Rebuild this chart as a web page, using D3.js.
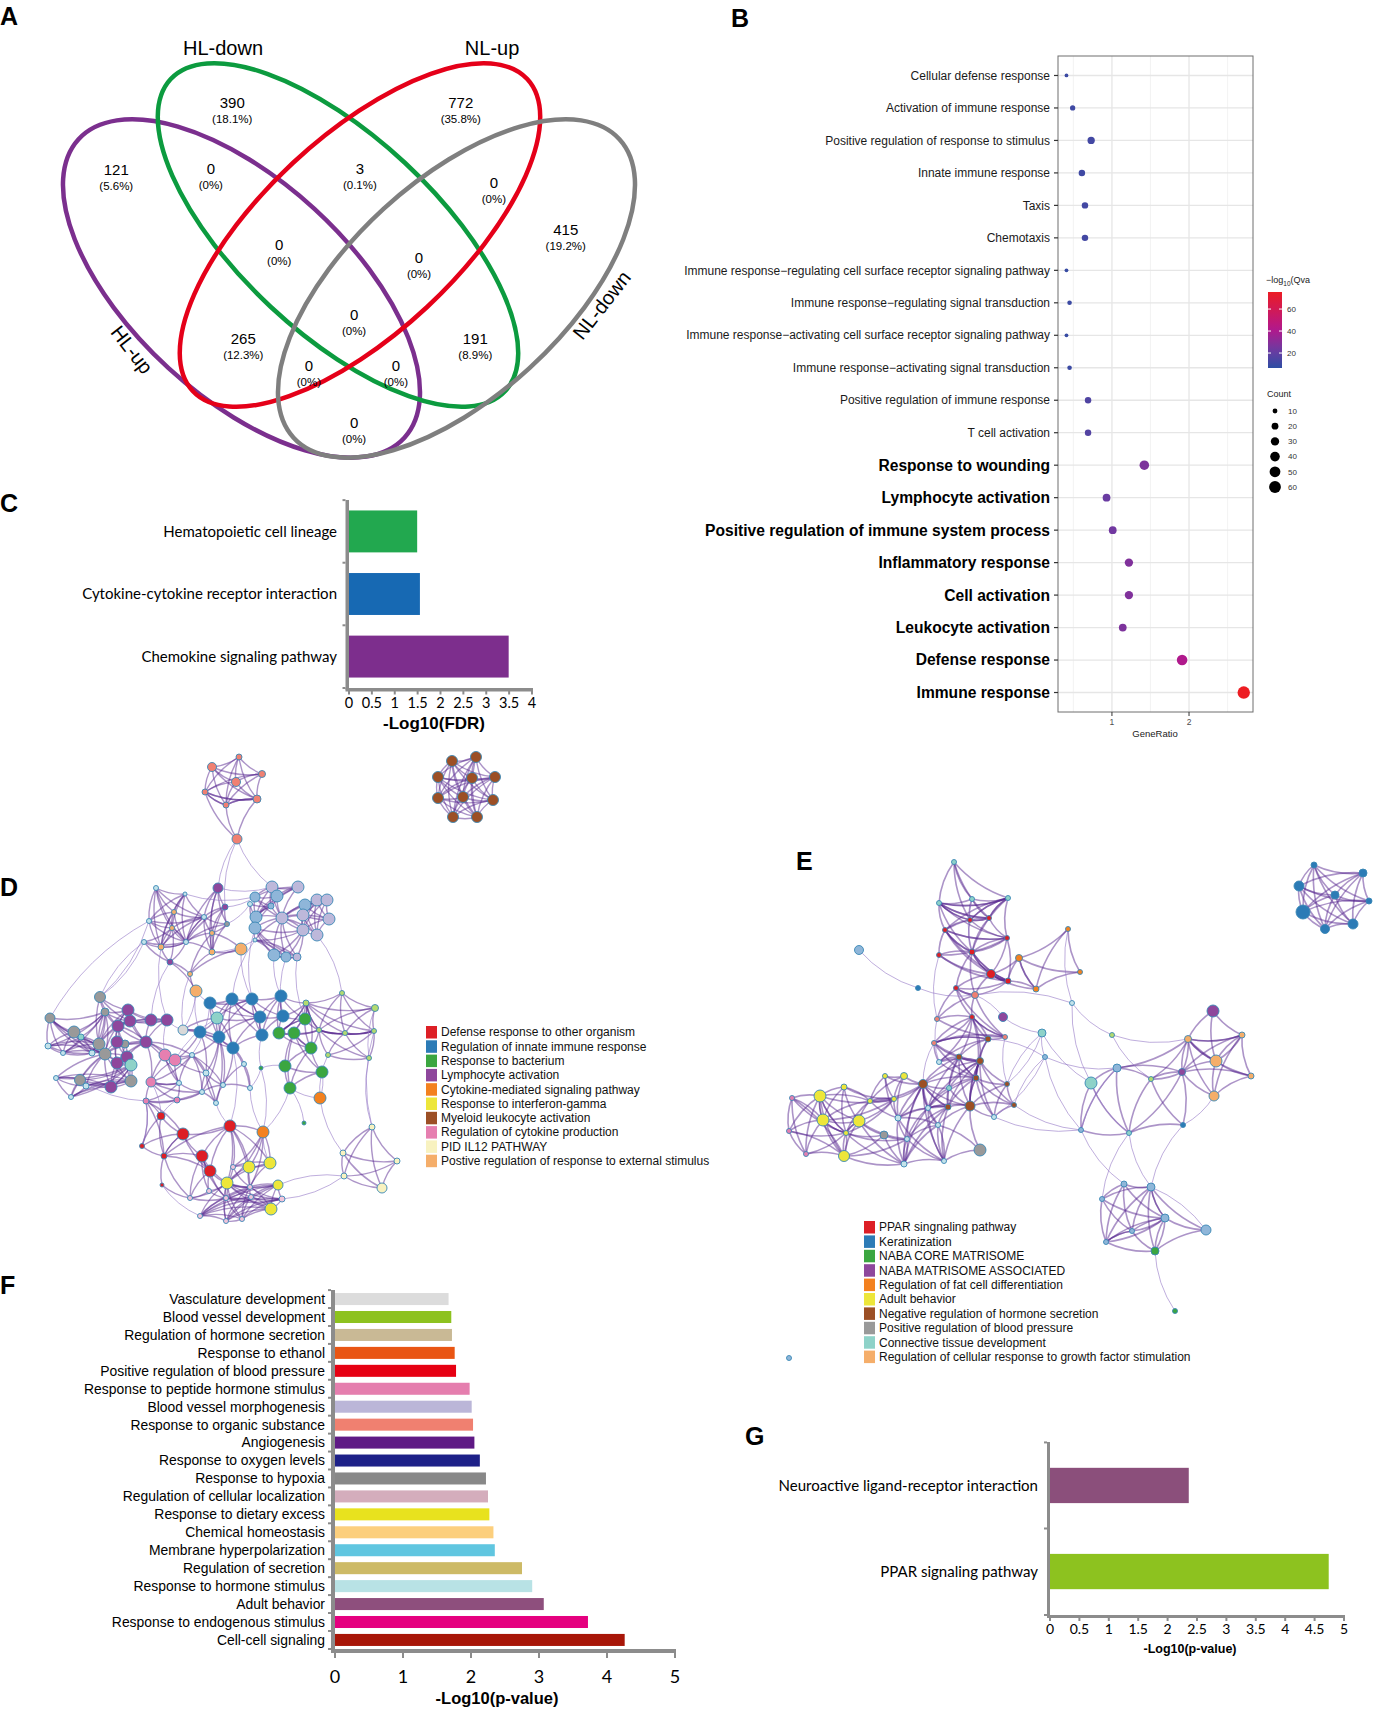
<!DOCTYPE html>
<html>
<head>
<meta charset="utf-8">
<script src="https://cdn.jsdelivr.net/npm/d3@7"></script>
<style>
  body { margin: 0; background: #fff; }
  svg { display: block; }
  text { font-family: "Liberation Sans", Arial, sans-serif; }
  .cal { font-family: Lato, "Open Sans", sans-serif; }
</style>
</head>
<body>
<svg id="fig" width="1374" height="1710"></svg>
<script>
// ---------------- data ----------------
// A: Venn diagram
const vennSets = ['HL-up', 'HL-down', 'NL-up', 'NL-down'];
const vennColors = ['#7B2F8E', '#0C9B3F', '#E50019', '#7F7F7F'];
const vennRegions = ['HL-down', 'NL-up', 'HL-up', 'HL-up&HL-down', 'HL-down&NL-up', 'NL-up&NL-down',
  'NL-down', 'HL-up&HL-down&NL-up', 'HL-down&NL-up&NL-down', 'all', 'HL-up&NL-up', 'HL-down&NL-down',
  'HL-up&NL-up&NL-down', 'HL-up&HL-down&NL-down', 'HL-up&NL-down'];
const vennCounts = [390, 772, 121, 0, 3, 0, 415, 0, 0, 0, 265, 191, 0, 0, 0];

// B: GO dot plot
const goTerms = ['Cellular defense response', 'Activation of immune response',
  'Positive regulation of response to stimulus', 'Innate immune response', 'Taxis', 'Chemotaxis',
  'Immune response\u2212regulating cell surface receptor signaling pathway',
  'Immune response\u2212regulating signal transduction',
  'Immune response\u2212activating cell surface receptor signaling pathway',
  'Immune response\u2212activating signal transduction', 'Positive regulation of immune response',
  'T cell activation', 'Response to wounding', 'Lymphocyte activation',
  'Positive regulation of immune system process', 'Inflammatory response', 'Cell activation',
  'Leukocyte activation', 'Defense response', 'Immune response'];
const goRatio = [0.41, 0.49, 0.73, 0.61, 0.65, 0.65, 0.41, 0.45, 0.41, 0.45, 0.69, 0.69,
  1.42, 0.93, 1.01, 1.22, 1.22, 1.14, 1.91, 2.71];
const goCount = [6, 12, 23, 18, 18, 18, 6, 9, 6, 9, 18, 18, 39, 26, 26, 30, 30, 26, 48, 66];
const goQ = [10, 11, 12, 11, 12, 12, 9, 10, 9, 10, 15, 16, 27, 22, 24, 28, 28, 27, 41, 76];
const goBold = 12; // first index drawn in bold
const countTicks = [10, 20, 30, 40, 50, 60];
const qTicks = [20, 40, 60];

// C: KEGG (up)
const keggC = ['Hematopoietic cell lineage', 'Cytokine-cytokine receptor interaction', 'Chemokine signaling pathway'];
const keggCVal = [1.49, 1.55, 3.49];
const keggCColor = ['#22A84F', '#1769B3', '#7D2E8D'];
const keggCTicks = ['0', '0.5', '1', '1.5', '2', '2.5', '3', '3.5', '4'];

// F: GO (down)
const fTerms = ['Vasculature development', 'Blood vessel development', 'Regulation of hormone secretion',
  'Response to ethanol', 'Positive regulation of blood pressure', 'Response to peptide hormone stimulus',
  'Blood vessel morphogenesis', 'Response to organic substance', 'Angiogenesis', 'Response to oxygen levels',
  'Response to hypoxia', 'Regulation of cellular localization', 'Response to dietary excess',
  'Chemical homeostasis', 'Membrane hyperpolarization', 'Regulation of secretion',
  'Response to hormone stimulus', 'Adult behavior', 'Response to endogenous stimulus', 'Cell-cell signaling'];
const fVal = [1.67, 1.71, 1.72, 1.76, 1.78, 1.98, 2.01, 2.03, 2.05, 2.13, 2.22, 2.25, 2.27, 2.33, 2.35,
  2.75, 2.90, 3.07, 3.72, 4.26];
const fColor = ['#DCDCDC', '#8DC21F', '#C9B995', '#E95513', '#E60012', '#E57EAE', '#BBB6D8', '#F08070',
  '#5F1985', '#1D2088', '#888888', '#D4ADBC', '#E8E21E', '#FCCF7D', '#60C6E0', '#CDBA66', '#B8E2E5',
  '#8E4F7D', '#E5007F', '#A81608'];

// G: KEGG (down)
const gTerms = ['Neuroactive ligand-receptor interaction', 'PPAR signaling pathway'];
const gVal = [2.36, 4.74];
const gColor = ['#8B4F7B', '#8DC21F'];
const gTicks = ['0', '0.5', '1', '1.5', '2', '2.5', '3', '3.5', '4', '4.5', '5'];

// D / E legends
const dLegend = ['Defense response to other organism', 'Regulation of innate immune response',
  'Response to bacterium', 'Lymphocyte activation', 'Cytokine-mediated signaling pathway',
  'Response to interferon-gamma', 'Myeloid leukocyte activation', 'Regulation of cytokine production',
  'PID IL12 PATHWAY', 'Postive regulation of response to external stimulus'];
const dLegendColor = ['#DD1F26', '#2C7BB6', '#3BA640', '#8E479C', '#F3811F', '#EDE63A', '#9C4F25',
  '#E67FB0', '#F8F2C0', '#F5AE6A'];
const eLegend = ['PPAR singnaling pathway', 'Keratinization', 'NABA CORE MATRISOME',
  'NABA MATRISOME ASSOCIATED', 'Regulation of fat cell differentiation', 'Adult behavior',
  'Negative regulation of hormone secretion', 'Positive regulation of blood pressure',
  'Connective tissue development', 'Regulation of cellular response to growth factor stimulation'];
const eLegendColor = ['#DD1F26', '#2C7BB6', '#3BA640', '#8E479C', '#F3811F', '#EDE63A', '#9C4F25',
  '#999999', '#8ED2C8', '#F5AE6A'];

// network cluster colours
const clusterColor = {r: '#DD1F26', b: '#2C7BB6', g: '#3BA640', p: '#8E479C', o: '#F3811F', y: '#EDE63A',
  w: '#9C4F25', k: '#E67FB0', l: '#F8F2C0', a: '#F5AE6A', G: '#999999', B: '#8FB6D9', L: '#BDB8DA',
  s: '#F08072', t: '#8ED2C8', q: '#B3DB6E', x: '#D9D9D9', c: '#C4E3EA', P: '#F2C4DA'};

// D network: nodes "id cluster size"
const dNodes = ('s1 s 4.5,s2 s 3,s3 s 3.5,s4 s 4.5,s5 s 3,s6 s 4,s7 s 3,s8 s 5,' +
  'w1 w 5.5,w2 w 5.5,w3 w 5.5,w4 w 5.5,w5 w 5.5,w6 w 5.5,w7 w 5.5,w8 w 5.5,w9 w 5.5,w10 w 5.5,' +
  'u1 c 2.5,u2 c 2,u3 p 5,u4 p 3,u5 a 2.5,u6 c 2.5,u7 c 2.5,u8 a 2.5,u9 a 2.5,u10 G 2.5,u11 c 2.5,' +
  'u12 a 3,u13 c 2.5,u14 a 3,u15 a 6,u16 p 3,u17 a 2.5,u18 a 6,' +
  'v1 L 6,v2 L 6,v3 B 5,v4 B 6,v5 c 2.5,v6 B 3,v7 B 6,v8 L 6,v9 L 6,v10 L 6,v11 L 6,v12 L 6,v13 B 6,' +
  'v14 B 6,v15 L 6,v16 L 6,v17 B 6,v18 B 5,v19 L 4,v20 c 2,' +
  'm1 b 6,m2 b 6,m3 b 6,m4 b 6,m5 t 6,m6 b 6,m7 b 6,m8 b 6,m9 b 6,m10 b 6,m11 b 6,m12 x 5,' +
  'n1 g 6,n2 g 6,n3 g 6,n4 g 6,n5 g 6,n6 g 6,n7 g 6,q1 q 3,q2 q 2.5,q3 q 3.5,q4 q 2.5,q5 q 2.5,' +
  'q6 q 2.5,q7 q 2.5,q8 q 2.5,n8 g 2,n9 g 2,' +
  'h1 G 5.5,h2 G 5,h3 G 6,h4 G 6,h5 G 6,h6 G 5.5,h7 G 6,h8 G 4,h9 G 4,p1 p 6,p2 p 6,p3 p 6,p4 p 6,' +
  'p5 p 6,p6 p 6,p7 p 6,p8 p 6,p9 p 6,p10 p 6,t1 t 3,t2 t 6,c1 c 3,c2 c 2.5,c3 c 2.5,c4 c 2.5,c5 c 3,c6 c 3,' +
  'k1 k 6,k2 k 6,k3 k 5,k4 k 3,k5 k 3,c7 c 2.5,c8 c 2.5,c9 c 3,c10 c 2.5,c11 c 2.5,c12 c 2.5,c13 c 2.5,c14 c 2.5,' +
  'r1 r 4,r2 r 6,r3 r 6,r4 r 6,r5 r 6,r6 r 2.5,r7 r 3,r8 r 2,o1 o 6,o2 o 6,' +
  'y1 y 6,y2 y 6,y3 y 6,y4 y 5,y5 y 6,P1 P 2.5,P2 P 2.5,P3 P 2.5,P4 P 2.5,P5 P 2.5,P6 P 2.5,P7 P 3,' +
  'P8 P 2.5,P9 P 2.5,P10 P 2.5,l1 l 3,l2 l 3,l3 l 3,l4 l 3,l5 l 5').split(',');

const dCliques = [
  ['s1','s2','s3','s4','s5','s6','s7'], ['s5','s6','s7','s8'],
  ['w1','w2','w3','w4','w5','w6','w7','w8','w9','w10'],
  ['u1','u2','u5','u6','u7','u8','u12','u13'], ['u3','u4','u7','u9','u10','u14','u13'],
  ['u11','u12','u16','u13','u8'], ['u14','u15','u9','u17'], ['u17','u18','u16'],
  ['v1','v2','v3','v4','v6','v10','v13'], ['v7','v8','v9','v11','v12','v15','v16','v10'],
  ['v10','v14','v17','v18','v19','v20','v15'], ['v5','v6','v13','v14'],
  ['m1','m2','m3','m5','m6','m9'], ['m3','m4','m6','m7','m10'], ['m8','m9','m11','m5','m12'],
  ['m2','m6','m10','m11'],
  ['n1','n2','n3','n4','q1','q4'], ['n3','n4','n5','n6','n7'], ['q1','q2','q3','q4','q5','q6'],
  ['q4','q5','q7','q8','q6'], ['m4','m7','n1','n2','q1'],
  ['h2','h3','h4','h5','c1','c2','c6','t1','h8'], ['h1','h8','p1','p2','p5','h4'],
  ['p1','p2','p3','p4','p7','p5'], ['p5','p6','p7','p8','p9','h9','h5'],
  ['h5','h6','h7','p10','c3','c4','c5','t2'], ['p8','p9','p10','t2','h7'],
  ['k1','k2','k3','c14','c7','p7'], ['k3','k4','k5','c7','c8'], ['c9','c10','c11','c8','c14','m9'],
  ['c12','c13','c10','m11'], ['k2','c9','m8'],
  ['r1','r2','r6','r7','k4'], ['r2','r3','r4','r5','r7'], ['r4','r5','P2','P3','P4','y3'],
  ['y1','y2','y3','P1','P5','o2','r3'], ['y3','y4','y5','P4','P5','P6','P7','P9','P10','P8'],
  ['r7','r8','P2'], ['l1','l2','l3','l4','l5']
];
const dBridges = [['s8','u3'],['s8','v1'],['s8','u4'],['u10','v5'],['u4','v3'],['u14','v20'],['u3','v1'],
  ['h1','u11'],['h1','u6'],['p4','m12'],['p4','k1'],['u18','m1'],['u18','m8'],['v17','m4'],['v18','m7'],
  ['v19','n1'],['n7','o1'],['n5','n8'],['q8','l1'],['q6','l1'],['r1','k3'],['r3','m11'],['o2','n8'],
  ['o1','n6'],['o2','n7'],['r8','P8'],['P7','l3'],['o1','l2'],['q3','q8'],['u15','m3'],['c12','n8'],
  ['m12','u18'],['n9','n7'],['u2','v3'],['u6','h2'],['u11','h1'],['u16','p3'],['u17','m12'],['v20','m2'],
  ['v14','m3'],['m5','k2'],['c14','m1'],['k5','r1'],['c11','r3'],['c12','o2'],['m10','n8'],['q7','o1'],
  ['q2','v16'],['u12','p4'],['h6','k4'],['r6','k4'],['o2','y2'],['l3','y4']];

// E network
const eNodes = ('a1 t 2.5,a2 t 2.5,a3 t 2.5,a4 t 2.5,a5 r 2.5,a6 r 2.5,a7 r 2.5,a8 r 2.5,a9 r 3,a10 r 2.5,' +
  'a11 r 4.5,a12 r 3,a13 r 2.5,a14 s 3.5,a15 r 2.5,a16 s 2.5,a17 p 4.5,a18 s 2.5,a19 w 3,a20 s 2.5,' +
  'o1 o 3.5,o2 o 2.5,o3 o 2.5,o4 o 3,a21 c 2.5,a22 t 4,a23 B 2.5,a24 B 4.5,a25 b 2.5,' +
  'b1 w 3,b2 w 3.5,b3 c 2.5,b4 w 3,b5 w 4.5,b6 t 2.5,b7 w 2.5,b8 w 5,b9 w 3,b10 c 2.5,b11 w 2.5,' +
  'b12 c 2.5,b13 c 2.5,b14 c 3,b15 c 2.5,b16 c 2.5,b17 c 3,b18 G 6,b19 G 4,' +
  'e1 y 2.5,e2 y 3.5,e3 y 2.5,e4 y 2.5,e5 y 3,e6 y 6,e7 y 6,e8 y 6,e9 y 2.5,e10 y 5.5,e11 k 2.5,' +
  'e12 k 2.5,e13 k 2.5,' +
  'f1 p 6,f2 a 3.5,f3 a 3,f4 a 6,f5 a 3,f6 p 3.5,f7 a 5,f8 q 2.5,f9 q 2.5,f10 B 4,f11 t 6,f12 b 2.5,' +
  'f13 B 2.5,f14 t 2.5,' +
  'g1 B 3,g2 B 4,g3 B 2.5,g4 B 4,g5 B 2.5,g6 B 5,g7 B 2.5,g8 g 4,g9 g 2.5,' +
  'K1 b 3,K2 b 4,K3 b 5,K4 b 4,K5 b 3,K6 b 7,K7 b 5,K8 b 4.5,Z B 2.5').split(',');

const eCliques = [
  ['a1','a2','a3','a4','a5','a6'], ['a2','a4','a5','a6','a7','a8','a9'], ['a7','a9','a10','a11','a12','a8'],
  ['a9','a11','a13','a14','a12'], ['a13','a14','a15','a16','a18'], ['a15','a19','a18','a20'],
  ['a11','o1','o4','a12'], ['o1','o2','o3','o4'],
  ['a19','a20','b1','b2','b3','b4','a15'], ['b1','b2','b4','b5','b6','b8','b9','b10'],
  ['b2','b4','b7','b11','b8','b12'], ['b5','b9','b10','b13','b14','b15','b16','b17'],
  ['e1','e2','e3','e4','b14','b5'], ['e4','e5','e6','e7','e8','e9','e3'],
  ['e6','e7','e10','e11','e12','e13','e9'], ['e8','e9','e10','b19','b17','b15'], ['b8','b18','b16','b13'],
  ['f1','f2','f4','f3'], ['f2','f3','f4','f5','f6','f7'], ['f6','f9','f10','f2'], ['f10','f11','f13','f14'],
  ['f9','f12','f14','f6'],
  ['g1','g2','g3','g4','g5','g7'], ['g2','g4','g6','g8'], ['g5','g7','g8','g4'],
  ['K1','K2','K3','K4','K5','K6','K7','K8']
];
const eBridges = [['a24','a25'],['a25','a14'],['a17','a22'],['a21','a14'],['a22','a23'],['a23','a19'],
  ['a22','b7'],['a23','b11'],['a22','f11'],['a23','f13'],['a21','f8'],['f8','f2'],['a23','f10'],
  ['b11','f13'],['f13','g1'],['f14','g2'],['g8','g9'],['f14','g3'],['g6','g2'],['a17','a14'],['o2','a21'],
  ['a3','a9'],['f12','f7'],['b12','f13'],['a16','b3'],['a20','b5'],['a10','a16'],['a18','b7'],['b7','a22'],
  ['b12','a23'],['f11','f14'],['f8','f9'],['f10','f13'],['f12','g2'],['a21','f11']];

// ---------------- layout (not data) ----------------
// Venn: ellipses [cx, cy, rx, ry, angle] and label spots in a unit frame
const vennEllipses = [[0.3129, 0.4284, 0.381, 0.1862, 42.5], [0.4793, 0.3362, 0.3943, 0.1697, 43],
  [0.5172, 0.3362, 0.3943, 0.1697, -43], [0.6836, 0.4284, 0.381, 0.1862, -42.5]];
const vennSetSpot = [[0.124, 0.534, 52], [0.281, 0.0138, 0], [0.745, 0.0138, 0], [0.934, 0.457, -52]];
const vennSpot = [[0.297, 0.1086], [0.691, 0.1086], [0.097, 0.2241], [0.260, 0.2224], [0.517, 0.2224],
  [0.748, 0.2466], [0.872, 0.3276], [0.378, 0.3534], [0.619, 0.3759], [0.507, 0.4741], [0.316, 0.5155],
  [0.716, 0.5155], [0.429, 0.5621], [0.579, 0.5621], [0.507, 0.6603]];

// network layouts (panel-local)
const dLayout = {s1:[212,27],s2:[239,17],s3:[262,34],s4:[236,42],s5:[205,52],s6:[257,59],s7:[226,65],s8:[237,99],
  w1:[452,21],w2:[476,17],w3:[438,37],w4:[472,38],w5:[495,37],w6:[438,58],w7:[463,57],w8:[493,60],w9:[453,77],w10:[477,77],
  u1:[156,148],u2:[185,154],u3:[218,148],u4:[225,167],u5:[174,172],u6:[149,181],u7:[204,177],u8:[172,188],u9:[212,193],
  u10:[227,184],u11:[144,202],u12:[161,207],u13:[186,202],u14:[212,212],u15:[241,209],u16:[170,222],u17:[190,234],u18:[196,251],
  v1:[272,147],v2:[298,147],v3:[255,157],v4:[277,156],v5:[250,164],v6:[271,166],v7:[305,165],v8:[317,160],v9:[327,160],
  v10:[282,178],v11:[303,175],v12:[329,179],v13:[256,177],v14:[255,188],v15:[303,190],v16:[317,195],v17:[274,215],
  v18:[286,217],v19:[297,217],v20:[255,200],
  m1:[210,263],m2:[232,259],m3:[252,259],m4:[281,256],m5:[217,278],m6:[260,277],m7:[283,276],m8:[200,292],m9:[219,297],
  m10:[262,295],m11:[233,308],m12:[183,290],
  n1:[305,279],n2:[279,293],n3:[294,293],n4:[311,308],n5:[285,326],n6:[322,332],n7:[290,348],q1:[306,263],q2:[342,253],
  q3:[375,268],q4:[319,290],q5:[345,293],q6:[374,291],q7:[328,315],q8:[369,318],n8:[261,328],n9:[304,383],
  h1:[100,257],h2:[50,278],h3:[74,292],h4:[99,304],h5:[105,314],h6:[80,340],h7:[131,341],h8:[105,272],h9:[125,304],
  p1:[128,270],p2:[130,281],p3:[151,280],p4:[167,280],p5:[118,286],p6:[117,302],p7:[146,302],p8:[127,317],p9:[117,323],
  p10:[111,347],t1:[81,297],t2:[131,325],c1:[48,306],c2:[63,313],c3:[56,338],c4:[71,357],c5:[86,346],c6:[92,313],
  k1:[165,315],k2:[175,320],k3:[151,342],k4:[146,361],k5:[177,360],c7:[179,343],c8:[202,352],c9:[206,333],c10:[223,345],
  c11:[216,363],c12:[250,348],c13:[244,324],c14:[192,315],
  r1:[161,376],r2:[183,394],r3:[230,386],r4:[202,416],r5:[210,431],r6:[142,406],r7:[164,416],r8:[162,445],
  o1:[320,358],o2:[263,392],
  y1:[249,427],y2:[270,423],y3:[227,443],y4:[278,445],y5:[271,469],P1:[233,427],P2:[190,458],P3:[209,451],P4:[226,458],
  P5:[250,447],P6:[251,457],P7:[282,459],P8:[200,476],P9:[226,481],P10:[242,479],
  l1:[372,387],l2:[343,413],l3:[344,436],l4:[397,421],l5:[382,448]};

const eLayout = {a1:[194,22],a2:[179,63],a3:[212,59],a4:[248,58],a5:[210,80],a6:[229,78],a7:[185,90],a8:[247,98],
  a9:[212,112],a10:[179,115],a11:[231,134],a12:[248,141],a13:[196,148],a14:[215,155],a15:[212,177],a16:[177,179],
  a17:[243,177],a18:[245,197],a19:[228,199],a20:[174,203],o1:[259,118],o2:[308,89],o3:[320,132],o4:[276,149],
  a21:[312,163],a22:[282,193],a23:[285,217],a24:[99,110],a25:[158,148],
  b1:[199,217],b2:[220,221],b3:[179,222],b4:[216,238],b5:[163,244],b6:[189,248],b7:[247,244],b8:[210,266],b9:[188,267],
  b10:[168,268],b11:[254,265],b12:[234,277],b13:[178,285],b14:[138,278],b15:[147,299],b16:[184,321],b17:[144,324],
  b18:[220,310],b19:[124,295],
  e1:[125,236],e2:[144,236],e3:[134,259],e4:[110,261],e5:[84,247],e6:[60,256],e7:[63,280],e8:[99,281],e9:[86,293],
  e10:[84,316],e11:[32,258],e12:[29,291],e13:[46,314],
  f1:[453,171],f2:[428,199],f3:[482,195],f4:[456,221],f5:[491,236],f6:[422,232],f7:[454,256],f8:[352,195],f9:[391,239],
  f10:[357,228],f11:[331,243],f12:[423,285],f13:[321,290],f14:[369,293],
  g1:[364,344],g2:[391,347],g3:[342,359],g4:[405,378],g5:[372,391],g6:[446,390],g7:[346,402],g8:[395,411],g9:[415,471],
  K1:[554,25],K2:[603,33],K3:[539,46],K4:[575,55],K5:[609,61],K6:[543,72],K7:[593,84],K8:[565,89],Z:[29,518]};

// ---------------- drawing ----------------
const svg = d3.select('#fig');

function panelLetter(txt, x, y) {
  svg.append('text').attr('x', x).attr('y', y).attr('font-size', 25).attr('font-weight', 'bold').text(txt);
}

// ---- A: Venn
(function() {
  const u = d3.scaleLinear().domain([0, 1]).range([0, 580]);
  const g = svg.append('g').attr('transform', 'translate(60,40)');
  vennEllipses.forEach((e, i) => {
    g.append('ellipse')
        .attr('cx', u(e[0])).attr('cy', u(e[1]))
        .attr('rx', u(e[2])).attr('ry', u(e[3]))
        .attr('transform', `rotate(${e[4]},${u(e[0])},${u(e[1])})`)
        .attr('fill', 'none')
        .attr('stroke', vennColors[i])
        .attr('stroke-width', 4.5);
  });
  const total = d3.sum(vennCounts);
  const pct = v => v === 0 ? '(0%)' : `(${(v / total * 100).toFixed(1)}%)`;
  const lab = g.selectAll('g.region').data(vennRegions).join('g').attr('class', 'region')
      .attr('transform', (d, i) => `translate(${u(vennSpot[i][0])},${u(vennSpot[i][1])})`);
  lab.append('text').attr('text-anchor', 'middle').attr('y', 5).attr('font-size', 15)
      .text((d, i) => vennCounts[i]);
  lab.append('text').attr('text-anchor', 'middle').attr('y', 20).attr('font-size', 11.5)
      .text((d, i) => pct(vennCounts[i]));
  g.selectAll('text.set').data(vennSets).join('text').attr('class', 'set')
      .attr('transform', (d, i) => `translate(${u(vennSetSpot[i][0])},${u(vennSetSpot[i][1])}) rotate(${vennSetSpot[i][2]})`)
      .attr('text-anchor', 'middle').attr('dy', '0.35em').attr('font-size', 20)
      .text(d => d);
})();
panelLetter('A', 0, 25);

// ---- B: dot plot
(function() {
  const x = d3.scaleLinear().domain([0.3, 2.83]).range([1058, 1253]);
  const y = d3.scalePoint().domain(goTerms).range([56, 712]).padding(0.6);
  const size = d3.scaleSqrt().domain([0, 64]).range([0, 6.1]);
  const color = d3.scaleLinear().domain([6.4, 22, 42, 75.5])
      .range(['#2D4EA3', '#6A3CA2', '#B4178B', '#EC1C24']);
  const g = svg.append('g');
  g.selectAll('line.vmin').data([0.5, 1.5, 2.5]).join('line')
      .attr('x1', d => x(d)).attr('x2', d => x(d)).attr('y1', 56).attr('y2', 712)
      .attr('stroke', '#F0F0F0').attr('stroke-width', 0.8);
  g.selectAll('line.vmaj').data([1, 2]).join('line')
      .attr('x1', d => x(d)).attr('x2', d => x(d)).attr('y1', 56).attr('y2', 712)
      .attr('stroke', '#E6E6E6').attr('stroke-width', 1.3);
  g.selectAll('line.h').data(goTerms).join('line')
      .attr('x1', 1058).attr('x2', 1253).attr('y1', d => y(d)).attr('y2', d => y(d))
      .attr('stroke', '#E6E6E6').attr('stroke-width', 1.3);
  g.append('rect').attr('x', 1058).attr('y', 56).attr('width', 195).attr('height', 656)
      .attr('fill', 'none').attr('stroke', '#6E6E6E').attr('stroke-width', 1);
  g.selectAll('circle').data(goTerms).join('circle')
      .attr('cx', (d, i) => x(goRatio[i])).attr('cy', d => y(d))
      .attr('r', (d, i) => size(goCount[i])).attr('fill', (d, i) => color(goQ[i]));
  g.selectAll('line.yt').data(goTerms).join('line')
      .attr('x1', 1054).attr('x2', 1058).attr('y1', d => y(d)).attr('y2', d => y(d))
      .attr('stroke', '#333').attr('stroke-width', 1.2);
  g.selectAll('text.yl').data(goTerms).join('text')
      .attr('x', 1050).attr('y', d => y(d)).attr('dy', '0.35em').attr('text-anchor', 'end')
      .attr('font-size', (d, i) => i < goBold ? 12 : 15.6)
      .attr('font-weight', (d, i) => i < goBold ? 'normal' : 'bold')
      .attr('fill', (d, i) => i < goBold ? '#1A1A1A' : '#000')
      .text(d => d);
  g.selectAll('line.xt').data([1, 2]).join('line')
      .attr('x1', d => x(d)).attr('x2', d => x(d)).attr('y1', 712).attr('y2', 716)
      .attr('stroke', '#333');
  g.selectAll('text.xl').data([1, 2]).join('text')
      .attr('x', d => x(d)).attr('y', 725).attr('text-anchor', 'middle').attr('font-size', 8.5).attr('fill', '#4D4D4D')
      .text(d => d);
  g.append('text').attr('x', 1155).attr('y', 737).attr('text-anchor', 'middle')
      .attr('font-size', 9.5).attr('fill', '#222').text('GeneRatio');

  // colour legend
  const qs = d3.scaleLinear().domain([6.4, 75.5]).range([368, 292]);
  const grad = svg.append('defs').append('linearGradient').attr('id', 'qgrad')
      .attr('x1', 0).attr('x2', 0).attr('y1', 1).attr('y2', 0);
  d3.range(0, 1.01, 0.1).forEach(t => {
    grad.append('stop').attr('offset', t).attr('stop-color', color(6.4 + t * (75.5 - 6.4)));
  });
  const t = g.append('text').attr('x', 1266).attr('y', 283).attr('font-size', 9).attr('fill', '#222');
  t.append('tspan').text('\u2212log');
  t.append('tspan').attr('font-size', 6.5).attr('dy', 3).text('10');
  t.append('tspan').attr('dy', -3).text('(Qva');
  g.append('rect').attr('x', 1268).attr('y', 292).attr('width', 14).attr('height', 76).attr('fill', 'url(#qgrad)');
  qTicks.forEach(v => {
    g.append('line').attr('x1', 1268).attr('x2', 1271).attr('y1', qs(v)).attr('y2', qs(v)).attr('stroke', '#fff');
    g.append('line').attr('x1', 1279).attr('x2', 1282).attr('y1', qs(v)).attr('y2', qs(v)).attr('stroke', '#fff');
    g.append('text').attr('x', 1287).attr('y', qs(v)).attr('dy', '0.35em')
        .attr('font-size', 8).attr('fill', '#333').text(v);
  });
  // size legend
  g.append('text').attr('x', 1267).attr('y', 397).attr('font-size', 9).attr('fill', '#222').text('Count');
  const cy = d3.scalePoint().domain(countTicks).range([411, 487]);
  g.selectAll('circle.cl').data(countTicks).join('circle')
      .attr('cx', 1275).attr('cy', d => cy(d)).attr('r', d => size(d)).attr('fill', '#000');
  g.selectAll('text.cl').data(countTicks).join('text')
      .attr('x', 1288).attr('y', d => cy(d)).attr('dy', '0.35em').attr('font-size', 8).attr('fill', '#333').text(d => d);
})();
panelLetter('B', 731, 27);

// ---- horizontal bar chart helper (C, F, G)
function hbar(opt) {
  const g = svg.append('g');
  const x = d3.scaleLinear().domain(opt.domain).range(opt.xr);
  const y = d3.scaleBand().domain(opt.terms).range(opt.yr).paddingInner(opt.pi).paddingOuter(opt.po);
  g.selectAll('rect').data(opt.terms).join('rect')
      .attr('x', x(0)).attr('y', d => y(d))
      .attr('width', (d, i) => x(opt.values[i]) - x(0)).attr('height', y.bandwidth())
      .attr('fill', (d, i) => opt.colors[i]);
  const axc = '#8C8C8C';
  // y axis
  g.append('line').attr('x1', x(0) - opt.aw / 2).attr('x2', x(0) - opt.aw / 2)
      .attr('y1', opt.yr[0]).attr('y2', opt.yr[1] + opt.aw / 2)
      .attr('stroke', axc).attr('stroke-width', opt.aw);
  const bounds = opt.terms.map(d => y(d) - y.step() * y.paddingInner() / 2).concat([opt.yr[1]]);
  g.selectAll('line.yt').data(bounds).join('line')
      .attr('x1', x(0) - opt.aw - 3).attr('x2', x(0) - opt.aw).attr('y1', d => d).attr('y2', d => d)
      .attr('stroke', axc).attr('stroke-width', 2);
  // x axis
  g.append('line').attr('x1', x(0) - opt.aw).attr('x2', x(opt.domain[1]) + 1)
      .attr('y1', opt.yr[1] + opt.aw / 2).attr('y2', opt.yr[1] + opt.aw / 2)
      .attr('stroke', axc).attr('stroke-width', opt.aw);
  g.selectAll('line.xt').data(opt.ticks).join('line')
      .attr('x1', d => x(+d)).attr('x2', d => x(+d))
      .attr('y1', opt.yr[1]).attr('y2', opt.yr[1] + opt.aw + opt.tl)
      .attr('stroke', axc).attr('stroke-width', 2);
  g.selectAll('text.xl').data(opt.ticks).join('text').attr('class', 'cal')
      .attr('x', d => x(+d)).attr('y', opt.tickY).attr('text-anchor', 'middle')
      .attr('font-size', opt.tickSize).text(d => d);
  g.selectAll('text.yl').data(opt.terms).join('text').attr('class', opt.labelClass)
      .attr('x', opt.labelX).attr('y', d => y(d) + y.bandwidth() / 2).attr('dy', '0.35em')
      .attr('text-anchor', 'end').attr('font-size', opt.labelSize).text(d => d);
  g.append('text').attr('x', opt.titleX).attr('y', opt.titleY)
      .attr('text-anchor', 'middle').attr('font-weight', 'bold').attr('font-size', opt.titleSize)
      .text(opt.title);
}

hbar({terms: keggC, values: keggCVal, colors: keggCColor, domain: [0, 4], xr: [349, 532], yr: [500, 688],
  pi: 0.33, po: 0.167, aw: 3.5, tl: 3, ticks: keggCTicks, tickY: 708, tickSize: 14.5,
  labelX: 337, labelSize: 15, labelClass: 'cal', title: '-Log10(FDR)', titleX: 434, titleY: 729, titleSize: 17});
panelLetter('C', 0, 512);

hbar({terms: fTerms, values: fVal, colors: fColor, domain: [0, 5], xr: [335, 675], yr: [1290, 1649],
  pi: 0.33, po: 0.17, aw: 4, tl: 5, ticks: ['0', '1', '2', '3', '4', '5'], tickY: 1683, tickSize: 18,
  labelX: 325, labelSize: 13.9, labelClass: null, title: '-Log10(p-value)', titleX: 497, titleY: 1704, titleSize: 16.5});
panelLetter('F', 0, 1294);

hbar({terms: gTerms, values: gVal, colors: gColor, domain: [0, 5], xr: [1050, 1344], yr: [1442, 1615],
  pi: 0.59, po: 0.3, aw: 3, tl: 3, ticks: gTicks, tickY: 1634, tickSize: 14,
  labelX: 1038, labelSize: 15, labelClass: 'cal', title: '-Log10(p-value)', titleX: 1190, titleY: 1653, titleSize: 12.5});
panelLetter('G', 745, 1445);

// ---- network helper (D, E)
function network(nodes, layout, cliques, bridges, ox, oy, ew) {
  const x = d3.scaleLinear().domain([0, 1]).range([ox, ox + 1]);
  const y = d3.scaleLinear().domain([0, 1]).range([oy, oy + 1]);
  const g = svg.append('g');
  const edges = [];
  cliques.forEach(c => {
    for (let i = 0; i < c.length; i++) for (let j = i + 1; j < c.length; j++) edges.push([c[i], c[j], 1]);
  });
  bridges.forEach(b => edges.push([b[0], b[1], 0]));
  const path = e => {
    const a = layout[e[0]], b = layout[e[1]];
    const x1 = x(a[0]), y1 = y(a[1]), x2 = x(b[0]), y2 = y(b[1]);
    const mx = (x1 + x2) / 2, my = (y1 + y2) / 2;
    const k = 0.14;
    return `M${x1},${y1}Q${mx - (y2 - y1) * k},${my + (x2 - x1) * k} ${x2},${y2}`;
  };
  g.selectAll('path').data(edges).join('path')
      .attr('d', path).attr('fill', 'none')
      .attr('stroke', e => e[2] ? '#5A2A92' : '#9478C6')
      .attr('stroke-width', e => e[2] ? ew : 1)
      .attr('stroke-opacity', e => e[2] ? 0.5 : 0.6);
  const rows = nodes.map(s => s.split(' '));
  const r = d3.scaleLinear().domain([0, 1]).range([0, 1]);
  g.selectAll('circle').data(rows).join('circle')
      .attr('cx', d => x(layout[d[0]][0])).attr('cy', d => y(layout[d[0]][1]))
      .attr('r', d => r(+d[2])).attr('fill', d => clusterColor[d[1]])
      .attr('stroke', '#3A88B5').attr('stroke-width', 0.9);
}

function legend(labels, colors, x0, y0, step) {
  const y = d3.scaleLinear().domain([0, 1]).range([y0, y0 + step]);
  const g = svg.append('g');
  g.selectAll('rect').data(labels).join('rect')
      .attr('x', x0).attr('y', (d, i) => y(i) - 6).attr('width', 11).attr('height', 12.5)
      .attr('fill', (d, i) => colors[i]);
  g.selectAll('text').data(labels).join('text')
      .attr('x', x0 + 15).attr('y', (d, i) => y(i)).attr('dy', '0.36em')
      .attr('font-size', 12).attr('fill', '#111').text(d => d);
}

network(dNodes, dLayout, dCliques, dBridges, 0, 740, 1.4);
legend(dLegend, dLegendColor, 426, 1032, 14.3);
panelLetter('D', 0, 896);

network(eNodes, eLayout, eCliques, eBridges, 760, 840, 1.6);
legend(eLegend, eLegendColor, 864, 1227, 14.4);
panelLetter('E', 796, 870);
</script>
</body>
</html>
